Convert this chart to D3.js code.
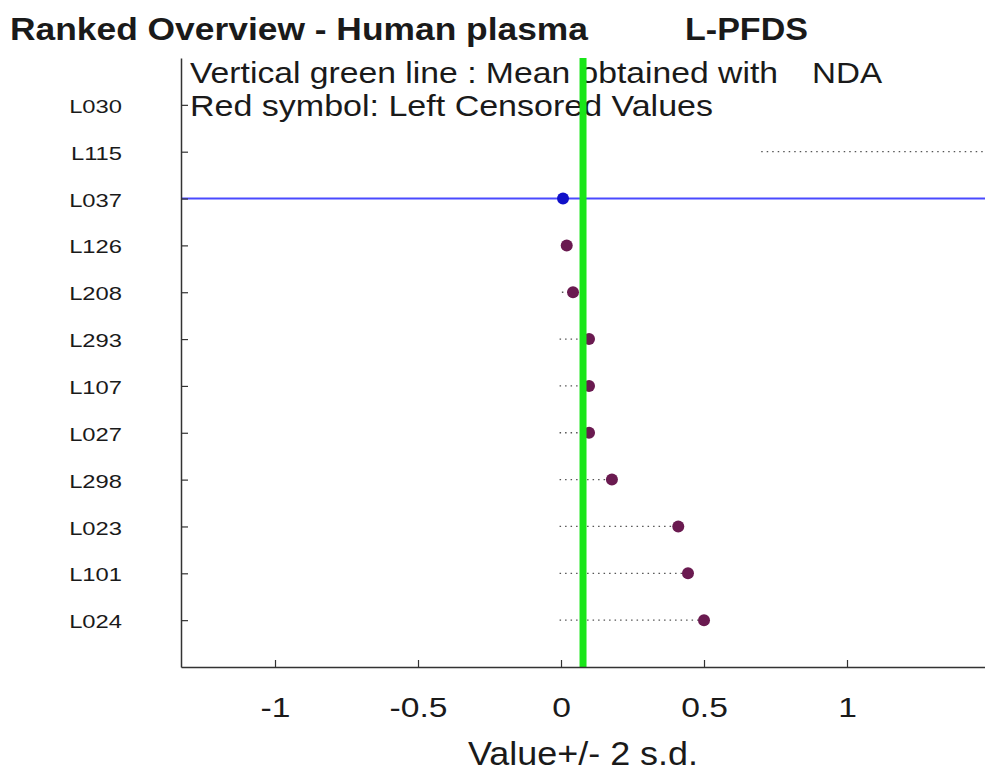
<!DOCTYPE html>
<html>
<head>
<meta charset="utf-8">
<script src="https://cdn.jsdelivr.net/npm/d3@7"></script>
<style>
  body { margin: 0; background: #fff; }
  text { font-family: "Liberation Sans", Arial, sans-serif; fill: #1a1a1a; }
</style>
</head>
<body>
<div id="chart-area"></div>
<script>

// labs, ranked from top to bottom
let labs = ["L030", "L115", "L037", "L126", "L208", "L293", "L107", "L027", "L298", "L023", "L101", "L024"];
// reported value (null = nothing shown)
let values = [null, 2.0, 0.007, 0.02, 0.042, 0.098, 0.098, 0.098, 0.178, 0.41, 0.444, 0.50];
// dotted interval, start and end
let lowBars = [null, 0.70, -2.0, null, 0.003, -0.005, -0.005, -0.005, -0.005, -0.005, -0.005, -0.005];
let highBars = [null, 2.0, 2.0, null, 0.042, 0.098, 0.098, 0.098, 0.178, 0.41, 0.444, 0.50];
let highlighted = "L037";
let meanNDA = 0.077;
let xTicks = [-1, -0.5, 0, 0.5, 1];

let width = 985, height = 773;
let plot = {left: 181, right: 985, top: 58, bottom: 667};

let svg = d3.select("#chart-area").append("svg")
    .attr("width", width)
    .attr("height", height);

// the original text is drawn wider than Liberation Sans
function stretch(sel, k) {
	sel.each(function() {
		let len = this.getComputedTextLength();
		d3.select(this)
			.attr("textLength", len * k)
			.attr("lengthAdjust", "spacingAndGlyphs");
	});
}
function fitTo(sel, w) {
	sel.attr("textLength", w).attr("lengthAdjust", "spacingAndGlyphs");
}

// Scales
let x = d3.scaleLinear()
    .domain([-1.3287, 1.4825])
    .range([plot.left, plot.right]);

let y = d3.scalePoint()
    .domain(labs)
    .range([plot.top, plot.bottom])
    .padding(1);

svg.append("clipPath").attr("id", "clip")
  .append("rect")
    .attr("x", plot.left)
    .attr("y", plot.top)
    .attr("width", plot.right - plot.left)
    .attr("height", plot.bottom - plot.top);

let rows = labs.map((d, i) => ({lab: d, v: values[i], lo: lowBars[i], hi: highBars[i]}));

// Title
svg.append("text")
    .attr("x", 10).attr("y", 40)
    .style("font-weight", "bold").style("font-size", "31px")
    .text("Ranked Overview - Human plasma")
    .call(fitTo, 578);
svg.append("text")
    .attr("x", 685).attr("y", 40)
    .style("font-weight", "bold").style("font-size", "31px")
    .text("L-PFDS")
    .call(fitTo, 123);

// Legend text
svg.append("text")
    .attr("x", 190).attr("y", 83)
    .style("font-size", "30px")
    .text("Vertical green line : Mean obtained with")
    .call(fitTo, 588);
svg.append("text")
    .attr("x", 812).attr("y", 83)
    .style("font-size", "30px")
    .text("NDA")
    .call(fitTo, 70);
svg.append("text")
    .attr("x", 190).attr("y", 116)
    .style("font-size", "30px")
    .text("Red symbol: Left Censored Values")
    .call(fitTo, 523);

let g = svg.append("g").attr("clip-path", "url(#clip)");

// Intervals
g.selectAll(".bar")
    .data(rows.filter(d => d.lo != null && d.lab != highlighted))
  .enter().append("line")
    .attr("class", "bar")
    .attr("x1", d => x(d.lo))
    .attr("x2", d => x(d.hi))
    .attr("y1", d => y(d.lab))
    .attr("y2", d => y(d.lab))
    .attr("stroke", "#555")
    .attr("stroke-width", 1.3)
    .attr("stroke-dasharray", "1.5,4");

// highlighted lab
let hl = rows.find(d => d.lab == highlighted);
g.append("line")
    .attr("x1", x(hl.lo)).attr("x2", x(hl.hi))
    .attr("y1", y(hl.lab)).attr("y2", y(hl.lab))
    .attr("stroke", "#4a4aff")
    .attr("stroke-width", 2);

// Points
g.selectAll(".dot")
    .data(rows.filter(d => d.v != null))
  .enter().append("circle")
    .attr("class", "dot")
    .attr("cx", d => x(d.v))
    .attr("cy", d => y(d.lab))
    .attr("r", 6)
    .attr("fill", d => d.lab == highlighted ? "#1010c8" : "#6a1a50");

// Mean line
svg.append("line")
    .attr("x1", x(meanNDA)).attr("x2", x(meanNDA))
    .attr("y1", plot.top).attr("y2", plot.bottom)
    .attr("stroke", "#19e619")
    .attr("stroke-width", 7);

// Axes
let xAxisGroup = svg.append("g")
    .attr("class", "x-axis axis")
    .attr("transform", `translate(0, ${plot.bottom})`)
    .call(d3.axisBottom(x).tickValues(xTicks).tickFormat(d => String(d)).tickSize(-7).tickSizeOuter(0).tickPadding(30));

let yAxisGroup = svg.append("g")
    .attr("class", "y-axis axis")
    .attr("transform", `translate(${plot.left}, 0)`)
    .call(d3.axisLeft(y).tickSize(-7).tickSizeOuter(0).tickPadding(59));

svg.selectAll(".axis path").attr("stroke", "#333").attr("stroke-width", 1.5);
svg.selectAll(".axis line").attr("stroke", "#333").attr("stroke-width", 1.2);
xAxisGroup.selectAll("text").style("font-size", "28px").attr("fill", "#1a1a1a").call(stretch, 1.2);
yAxisGroup.selectAll("text").style("font-size", "19px").attr("fill", "#1a1a1a")
    .attr("dy", "0.4em").call(stretch, 1.25);

// x axis title
svg.append("text")
    .attr("x", 583).attr("y", 765)
    .attr("text-anchor", "middle")
    .style("font-size", "33px")
    .text("Value+/- 2 s.d.")
    .call(fitTo, 230);

</script>
</body>
</html>
